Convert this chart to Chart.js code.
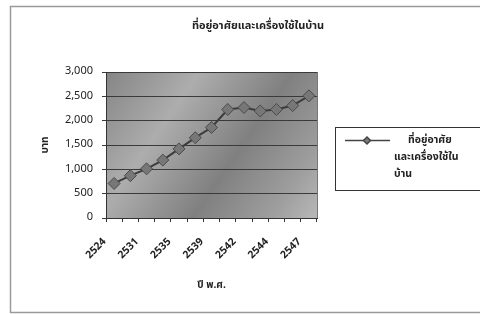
<!DOCTYPE html>
<html>
<head>
<meta charset="utf-8">
<script src="https://cdn.jsdelivr.net/npm/chart.js@4.4.0/dist/chart.umd.min.js"></script>
<style>
  html, body { margin: 0; padding: 0; background: #fff; }
  #wrap { width: 480px; height: 314px; }
</style>
</head>
<body>
<div id="wrap"><canvas id="chart" width="480" height="314"></canvas></div>
<script>
// survey years (B.E.) and spending in baht
const years = ['2524', '2529', '2531', '2533', '2535', '2537', '2539', '2541', '2542', '2543', '2544', '2545', '2547'];
const housing = [710, 870, 1010, 1190, 1420, 1650, 1860, 2230, 2270, 2200, 2230, 2310, 2510];
const yTicks = [0, 500, 1000, 1500, 2000, 2500, 3000];

const chartTitle = 'ที่อยู่อาศัยและเครื่องใช้ในบ้าน';
const legendLines = ['ที่อยู่อาศัย', 'และเครื่องใช้ใน', 'บ้าน'];
const thaiFont = '"Noto Sans Thai", "Noto Sans", "DejaVu Sans", sans-serif';

// frame, title, plot background and legend box
const decor = {
    id: 'decor',
    beforeDraw(chart) {
        const ctx = chart.ctx;
        const a = chart.chartArea;
        ctx.save();
        ctx.fillStyle = '#fff';
        ctx.fillRect(0, 0, chart.width, chart.height);

        // outer chart frame
        ctx.strokeStyle = '#9a9a9a';
        ctx.lineWidth = 1.5;
        ctx.strokeRect(10.5, 6.5, 480, 306);

        // grey gradient plot area
        const g = ctx.createLinearGradient(a.left, a.top, a.right, a.bottom);
        g.addColorStop(0, '#858585');
        g.addColorStop(0.3, '#adadad');
        g.addColorStop(0.6, '#808080');
        g.addColorStop(0.85, '#9e9e9e');
        g.addColorStop(1, '#b8b8b8');
        ctx.fillStyle = g;
        ctx.fillRect(a.left, a.top, a.right - a.left, a.bottom - a.top);
        ctx.strokeStyle = '#777';
        ctx.lineWidth = 1;
        ctx.strokeRect(a.left + 0.5, a.top + 0.5, a.right - a.left, a.bottom - a.top);

        // title
        ctx.fillStyle = '#222';
        ctx.font = 'bold 11px ' + thaiFont;
        ctx.textAlign = 'center';
        ctx.textBaseline = 'middle';
        ctx.fillText(chartTitle, 258, 27);
        ctx.restore();
    },
    afterDraw(chart) {
        const ctx = chart.ctx;
        ctx.save();
        ctx.strokeStyle = '#333';
        ctx.lineWidth = 1;
        ctx.strokeRect(335.5, 127.5, 150, 63);

        // sample line with diamond
        ctx.strokeStyle = '#444';
        ctx.lineWidth = 1.5;
        ctx.beginPath();
        ctx.moveTo(345, 140.5);
        ctx.lineTo(390, 140.5);
        ctx.stroke();
        ctx.fillStyle = '#7a7a7a';
        ctx.beginPath();
        ctx.moveTo(367, 137);
        ctx.lineTo(370.5, 140.5);
        ctx.lineTo(367, 144);
        ctx.lineTo(363.5, 140.5);
        ctx.closePath();
        ctx.fill();
        ctx.stroke();

        ctx.fillStyle = '#222';
        ctx.font = 'bold 10.5px ' + thaiFont;
        ctx.textBaseline = 'middle';
        ctx.textAlign = 'left';
        ctx.fillText(legendLines[0], 408, 141);
        ctx.fillText(legendLines[1], 394, 158);
        ctx.fillText(legendLines[2], 394, 175);
        ctx.restore();
    }
};

const ctx = document.getElementById('chart').getContext('2d');
new Chart(ctx, {
    type: 'line',
    data: {
        labels: years,
        datasets: [{
            label: chartTitle,
            data: housing,
            borderColor: '#3c3c3c',
            borderWidth: 2,
            pointStyle: 'rectRot',
            pointRadius: 6,
            pointBackgroundColor: '#777',
            pointBorderColor: '#4a4a4a',
            pointBorderWidth: 1,
            fill: false,
            tension: 0
        }]
    },
    options: {
        responsive: false,
        animation: false,
        layout: { padding: { left: 40, right: 163, top: 72, bottom: 22 } },
        plugins: {
            legend: { display: false },
            title: { display: false },
            tooltip: { enabled: false }
        },
        scales: {
            x: {
                type: 'category',
                offset: true,
                afterFit(scale) { scale.height = 74; },
                grid: {
                    offset: true,
                    drawOnChartArea: false,
                    color: '#333',
                    tickLength: 4
                },
                border: { color: '#333' },
                ticks: {
                    autoSkip: false,
                    minRotation: 45,
                    maxRotation: 45,
                    color: '#222',
                    font: { size: 10.5, family: thaiFont, weight: 'bold' },
                    padding: 14,
                    labelOffset: -9,
                    callback(value, index) {
                        return index % 2 === 0 ? years[index] : '';
                    }
                },
                title: {
                    display: true,
                    text: 'ปี พ.ศ.',
                    color: '#222',
                    font: { size: 10, family: thaiFont, weight: 'bold' },
                    padding: 0
                }
            },
            y: {
                min: 0,
                max: 3000,
                afterFit(scale) { scale.width = 66; },
                afterBuildTicks(scale) {
                    scale.ticks = yTicks.map(v => ({ value: v }));
                },
                grid: {
                    color: '#3a3a3a',
                    lineWidth: 1,
                    drawTicks: true,
                    tickLength: 4
                },
                border: { color: '#333' },
                ticks: {
                    color: '#222',
                    font: { size: 11, family: thaiFont },
                    padding: 9,
                    callback(value) {
                        return value.toLocaleString('en-US');
                    }
                },
                title: {
                    display: true,
                    text: 'บาท',
                    color: '#222',
                    font: { size: 10, family: thaiFont, weight: 'bold' },
                    padding: 0
                }
            }
        }
    },
    plugins: [decor]
});
</script>
</body>
</html>
